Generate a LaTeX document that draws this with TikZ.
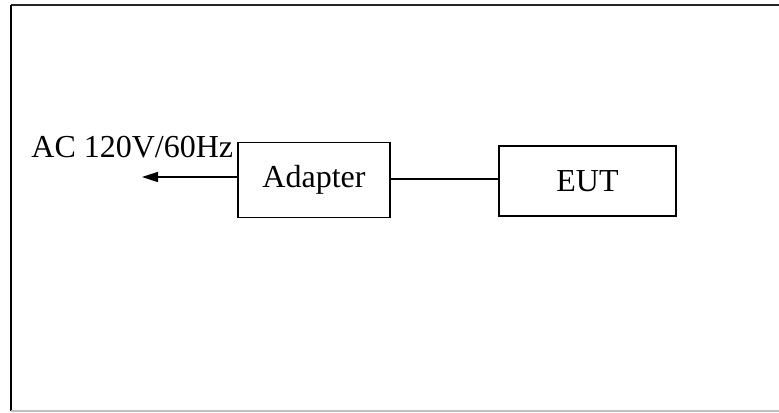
\documentclass[tikz,border=0pt]{standalone}
\usepackage{fontspec}
\setmainfont{Liberation Serif}
\usepackage{tikz}
\usetikzlibrary{arrows.meta}
\begin{document}
\begin{tikzpicture}[x=0.5pt, y=-0.5pt, box_style/.style={draw, thick, inner sep=0pt, font=\fontsize{16}{19}\selectfont},
		wire_style/.style={thick, black}]
	\useasboundingbox (0,0) rectangle (779,412);
	% frame
	\draw[line width=1.3pt, black!85] (11,5) -- (779,5);
	\draw[line width=1.3pt, black] (11,5) -- (11,411);
	\draw[line width=0.8pt, black!25] (11,411) -- (779,411);
	% blocks
	\node[box_style, minimum width=76pt, minimum height=37.5pt] (adapter) at (314,180) {Adapter};
	\node[box_style, minimum width=88.5pt, minimum height=35pt] (eut) at (587.5,181) {EUT};
	\node[anchor=base west, inner sep=0pt, font=\fontsize{16}{19}\selectfont] (ac_label) at (31,157) {AC 120V/60Hz};
	\coordinate (ac_end) at (142,177);
	% connections
	\draw[wire_style, -{Triangle[length=8pt, width=5pt]}] (adapter.west |- ac_end) -- (ac_end);
	\draw[wire_style] (adapter.east |- 0,179) -- (eut.west |- 0,179);
\end{tikzpicture}
\end{document}
